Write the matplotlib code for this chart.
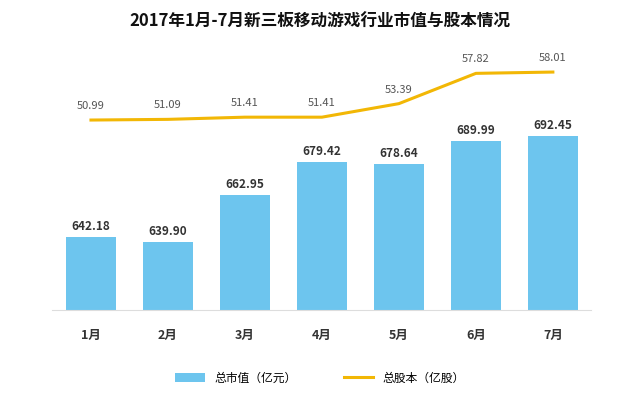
import matplotlib as mpl
import matplotlib.pyplot as plt
from matplotlib import font_manager as fm

cjk = [f.name for f in fm.fontManager.ttflist if 'CJK' in f.name]
mpl.rcParams['font.family'] = (sorted(set(cjk)) or []) + ['DejaVu Sans']
mpl.rcParams['font.sans-serif'] = sorted(set(cjk)) + ['DejaVu Sans']

MONTHS = ['1月', '2月', '3月', '4月', '5月', '6月', '7月']
MARKET_CAP = [642.18, 639.90, 662.95, 679.42, 678.64, 689.99, 692.45]
SHARES = [50.99, 51.09, 51.41, 51.41, 53.39, 57.82, 58.01]

BAR_C = '#6DC5EE'
LINE_C = '#F2B705'

fig = plt.figure(figsize=(6.4, 4.0), dpi=100)
ax = fig.add_axes([0.082, 0.225, 0.842, 0.675])
x = range(len(MONTHS))
ax.bar(x, MARKET_CAP, width=0.65, color=BAR_C, label='总市值（亿元）', zorder=2)
ax.set_ylim(606, 740)
ax.set_xlim(-0.5, 6.5)
for i, v in enumerate(MARKET_CAP):
    ax.text(i, v + 2, f'{v:.2f}', ha='center', va='bottom', fontsize=8.5,
            fontweight='bold', color='#333333')
ax.set_xticks(list(x))
ax.set_xticklabels(MONTHS, fontsize=9, fontweight='bold', color='#333333')
ax.tick_params(length=0, pad=14)
ax.set_yticks([])
for s in ['top', 'right', 'left']:
    ax.spines[s].set_visible(False)
ax.spines['bottom'].set_color('#dddddd')

ax2 = ax.twinx()
ax2.plot(list(x), SHARES, color=LINE_C, linewidth=2.2, label='总股本（亿股）', zorder=3)
ax2.set_ylim(23.2, 62.7)
ax2.set_yticks([])
for s in ax2.spines.values():
    s.set_visible(False)
for i, v in enumerate(SHARES):
    ax2.text(i, v + 1.3, f'{v:.2f}', ha='center', va='bottom', fontsize=8, color='#555555')

fig.text(0.5, 0.945, '2017年1月-7月新三板移动游戏行业市值与股本情况', ha='center',
         va='center', fontsize=12, fontweight='bold', color='#111111')

h1, l1 = ax.get_legend_handles_labels()
h2, l2 = ax2.get_legend_handles_labels()
fig.legend(h1 + h2, l1 + l2, loc='center', bbox_to_anchor=(0.5, 0.055), ncol=2,
           frameon=False, fontsize=8.5, columnspacing=4, handlelength=2.5)

fig.savefig('out.png', dpi=100)
